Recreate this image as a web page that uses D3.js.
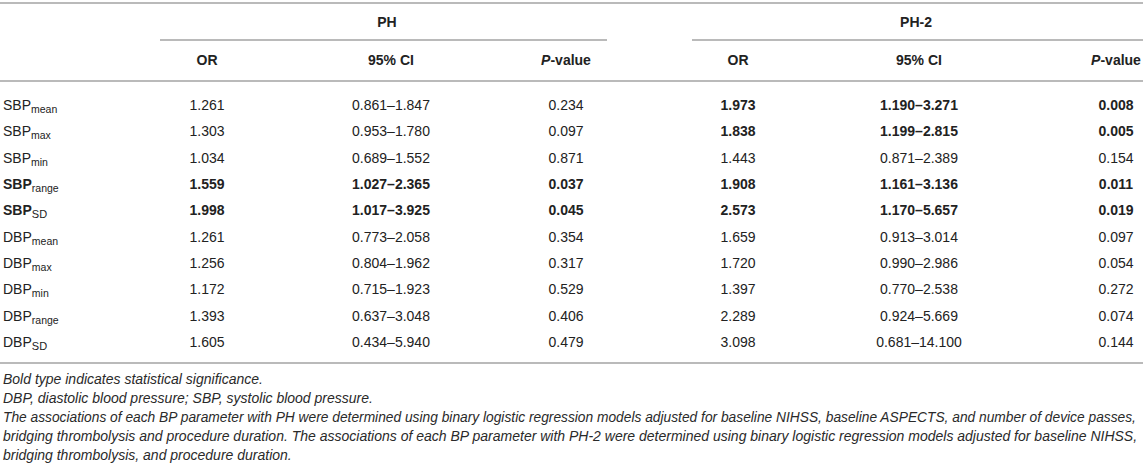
<!DOCTYPE html>
<html>
<head>
<meta charset="utf-8">
<script src="https://cdn.jsdelivr.net/npm/d3@7/dist/d3.min.js"></script>
<style>
  html, body { margin: 0; padding: 0; background: #fff; }
  svg { display: block; font-family: "Liberation Sans", Arial, Helvetica, sans-serif; }
</style>
</head>
<body>
<svg id="chart" width="1143" height="470"></svg>
<script>
// ---- data ----
const groups = ["PH", "PH-2"];
const columns = ["OR", "95% CI", "P-value"];
const paramBase = ["SBP", "SBP", "SBP", "SBP", "SBP", "DBP", "DBP", "DBP", "DBP", "DBP"];
const paramSub  = ["mean", "max", "min", "range", "SD", "mean", "max", "min", "range", "SD"];
const phOR  = ["1.261", "1.303", "1.034", "1.559", "1.998", "1.261", "1.256", "1.172", "1.393", "1.605"];
const phCI  = ["0.861–1.847", "0.953–1.780", "0.689–1.552", "1.027–2.365", "1.017–3.925", "0.773–2.058", "0.804–1.962", "0.715–1.923", "0.637–3.048", "0.434–5.940"];
const phP   = ["0.234", "0.097", "0.871", "0.037", "0.045", "0.354", "0.317", "0.529", "0.406", "0.479"];
const ph2OR = ["1.973", "1.838", "1.443", "1.908", "2.573", "1.659", "1.720", "1.397", "2.289", "3.098"];
const ph2CI = ["1.190–3.271", "1.199–2.815", "0.871–2.389", "1.161–3.136", "1.170–5.657", "0.913–3.014", "0.990–2.986", "0.770–2.538", "0.924–5.669", "0.681–14.100"];
const ph2P  = ["0.008", "0.005", "0.154", "0.011", "0.019", "0.097", "0.054", "0.272", "0.074", "0.144"];
const footnotes = [
  "Bold type indicates statistical significance.",
  "DBP, diastolic blood pressure; SBP, systolic blood pressure.",
  "The associations of each BP parameter with PH were determined using binary logistic regression models adjusted for baseline NIHSS, baseline ASPECTS, and number of device passes,",
  "bridging thrombolysis and procedure duration. The associations of each BP parameter with PH-2 were determined using binary logistic regression models adjusted for baseline NIHSS,",
  "bridging thrombolysis, and procedure duration."
];

// ---- layout ----
const svg = d3.select("#chart");
const W = 1143;
const textColor = "#222";
const ruleColor = "#a3a3a3";
const fs = 14;

const rowIdx = d3.range(paramBase.length);
const y = d3.scaleLinear().domain([0, rowIdx.length - 1]).range([105, 342]);
const fy = d3.scaleLinear().domain([0, footnotes.length - 1]).range([379, 455]);

// column centres per group
const colX = d3.scaleOrdinal()
  .domain(["PH|OR", "PH|95% CI", "PH|P-value", "PH-2|OR", "PH-2|95% CI", "PH-2|P-value"])
  .range([207, 391, 566, 738, 919, 1116]);
const groupSpan = d3.scaleOrdinal().domain(groups).range([[160, 607], [692, 1143]]);

// rules
const rules = [3, 81, 363];
svg.selectAll("line.rule").data(rules).join("line")
  .attr("class", "rule")
  .attr("x1", 0).attr("x2", W).attr("y1", d => d).attr("y2", d => d)
  .attr("stroke", ruleColor).attr("stroke-width", 1.6);

svg.selectAll("line.grp").data(groups).join("line")
  .attr("class", "grp")
  .attr("x1", d => groupSpan(d)[0]).attr("x2", d => groupSpan(d)[1])
  .attr("y1", 40).attr("y2", 40)
  .attr("stroke", ruleColor).attr("stroke-width", 1.6);

// group headers
svg.selectAll("text.grp").data(groups).join("text")
  .attr("class", "grp")
  .attr("x", d => d === "PH" ? 387 : 916)
  .attr("y", 22 + 5)
  .attr("text-anchor", "middle")
  .attr("font-size", fs).attr("font-weight", "bold").attr("fill", textColor)
  .text(d => d);

// column headers
const headerCells = [];
groups.forEach(g => columns.forEach(c => headerCells.push({ g, c })));
svg.selectAll("text.colh").data(headerCells).join("text")
  .attr("class", "colh")
  .attr("x", d => colX(d.g + "|" + d.c))
  .attr("y", 60 + 5)
  .attr("text-anchor", "middle")
  .attr("font-size", fs).attr("font-weight", "bold").attr("fill", textColor)
  .each(function (d) {
    const t = d3.select(this);
    if (d.c === "P-value") {
      t.append("tspan").attr("font-style", "italic").text("P");
      t.append("tspan").text("-value");
    } else {
      t.text(d.c);
    }
  });

// row labels
const labelBold = rowIdx.map(i => +phP[i] < 0.05);
svg.selectAll("text.rowlab").data(rowIdx).join("text")
  .attr("class", "rowlab")
  .attr("x", 3)
  .attr("y", i => y(i) + 5)
  .attr("font-size", fs).attr("fill", textColor)
  .attr("font-weight", i => labelBold[i] ? "bold" : "normal")
  .each(function (i) {
    const t = d3.select(this);
    t.append("tspan").text(paramBase[i]);
    t.append("tspan").attr("font-size", paramSub[i] === "SD" ? 11 : 10.5)
      .attr("font-weight", "normal")
      .attr("dy", 3).text(paramSub[i]);
  });

// body cells
const series = [
  { g: "PH", c: "OR", vals: phOR, p: phP },
  { g: "PH", c: "95% CI", vals: phCI, p: phP },
  { g: "PH", c: "P-value", vals: phP, p: phP },
  { g: "PH-2", c: "OR", vals: ph2OR, p: ph2P },
  { g: "PH-2", c: "95% CI", vals: ph2CI, p: ph2P },
  { g: "PH-2", c: "P-value", vals: ph2P, p: ph2P }
];
const cells = [];
series.forEach(s => rowIdx.forEach(i => cells.push({ x: colX(s.g + "|" + s.c), i, v: s.vals[i], bold: +s.p[i] < 0.05 })));
svg.selectAll("text.cell").data(cells).join("text")
  .attr("class", "cell")
  .attr("x", d => d.x)
  .attr("y", d => y(d.i) + 5)
  .attr("text-anchor", "middle")
  .attr("font-size", fs).attr("fill", textColor)
  .attr("font-weight", d => d.bold ? "bold" : "normal")
  .text(d => d.v);

// footnotes (long lines shrink slightly to fit width)
svg.selectAll("text.foot").data(footnotes).join("text")
  .attr("class", "foot")
  .attr("x", 3)
  .attr("y", (d, i) => fy(i) + 5)
  .attr("font-size", fs).attr("font-style", "italic").attr("fill", "#2a2a2a")
  .text(d => d)
  .each(function () {
    const len = this.getComputedTextLength();
    const target = 1134;
    if (len > target) d3.select(this).attr("font-size", (fs * target / len).toFixed(2));
  });
</script>
</body>
</html>
